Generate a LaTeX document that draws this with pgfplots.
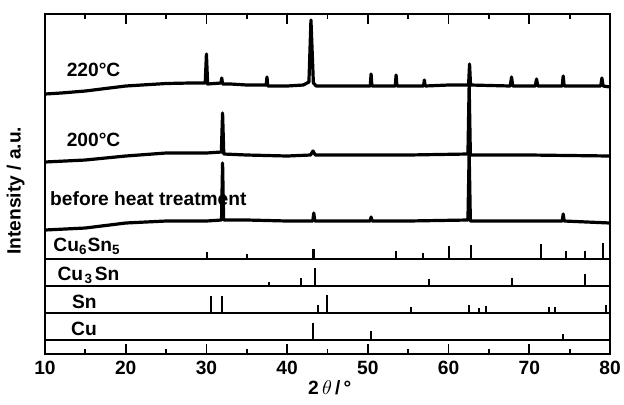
\documentclass[border=0pt]{standalone}
\usepackage{fontspec}
\setmainfont{Liberation Sans}
\usepackage{pgfplots}
\pgfplotsset{compat=1.18}

\newcommand{\lab}{\fontsize{9.6}{11}\selectfont\bfseries}

\begin{document}
\begin{tikzpicture}
\begin{axis}[
    scale only axis,
    width=282.5pt, height=170pt,
    xmin=10, xmax=80,
    ymin=0, ymax=340,
    axis line style={line width=1pt},
    xtick={10,20,...,80},
    minor x tick num=1,
    ytick=\empty,
    tick align=inside,
    major tick length=5pt,
    minor tick length=2.5pt,
    every tick/.style={black, line width=0.9pt},
    /pgf/number format/assume math mode=true,
    xticklabel style={font=\lab},
    xlabel={2\,$\theta$\,/\,°},
    xlabel style={font=\lab, at={(axis description cs:0.504,-0.1)}, anchor=center},
    ylabel={Intensity / a.u.},
    ylabel style={font=\lab, at={(axis description cs:-0.052,0.48)}, anchor=center},
    clip=true,
]
% panel separators
\draw[line width=1pt] (axis cs:10,95) -- (axis cs:80,95);
\draw[line width=1pt] (axis cs:10,68) -- (axis cs:80,68);
\draw[line width=1pt] (axis cs:10,41) -- (axis cs:80,41);
\draw[line width=1pt] (axis cs:10,14) -- (axis cs:80,14);

% 220 C
\addplot[black, line width=1.6pt, line join=round] coordinates {
(10,260) (12,261) (15,263) (18,266) (20,268) (22,269) (25,270.5) (28,271)
(29.85,271) (30.0,300) (30.15,270) (31.8,271) (31.9,276) (32.0,270) (33,270)
(35,269) (37.4,269) (37.5,277) (37.6,268) (40,268) (42,269) (42.7,272)
(42.95,334) (43.25,271) (43.6,268) (46,268) (50.3,268) (50.4,280) (50.5,268)
(53.4,268) (53.5,279) (53.6,268) (56.9,268) (57.0,274) (57.1,268) (60,269)
(62.48,269) (62.6,290) (62.72,269) (67.65,268) (67.8,277) (67.95,268) (70.75,268)
(70.9,275) (71.05,268) (74.08,268) (74.2,278) (74.32,268) (78.85,268) (79.0,276)
(79.15,268) (80,267)
};
% 200 C
\addplot[black, line width=1.6pt, line join=round] coordinates {
(10,192) (15,194) (20,198) (25,201) (30,201) (31.85,202) (32.0,241) (32.15,200)
(35,199) (40,198) (42.9,199) (43.2,203) (43.5,199) (50,199) (55,199) (62.4,200)
(62.55,269) (62.7,199) (70,199) (80,198)
};
% before heat treatment
\addplot[black, line width=1.6pt, line join=round] coordinates {
(10,124) (15,126) (20,131) (25,133) (30,133) (31.87,134) (32.0,191) (32.13,134)
(35,134) (40,133) (43.18,133) (43.3,141) (43.42,133) (50.28,133) (50.4,137)
(50.52,133) (55,133) (62.4,134) (62.55,201) (62.7,133) (74.08,133) (74.2,140)
(74.32,133) (80,131)
};

% reference sticks: x, top, length
\pgfplotsset{stick/.style={mark=none, draw=none,
    error bars/.cd, y dir=minus, y explicit, error mark=none,
    error bar style={line width=1pt, draw=black}}}
% Cu6Sn5
\addplot[stick] table[x=x, y=t, y error=h] {
x t h
30.1 102 7
35.05 100 5
43.15 105 10
43.3 105 10
53.5 103 8
56.8 101 6
60.0 108 13
62.75 109 14
71.4 110 15
74.6 103 8
76.85 103 8
79.1 111 16
};
% Cu3Sn
\addplot[stick] table[x=x, y=t, y error=h] {
x t h
37.7 72 4
41.75 76 8
43.4 86 18
57.6 75 7
67.9 76 8
76.9 80 12
};
% Sn
\addplot[stick] table[x=x, y=t, y error=h] {
x t h
30.55 58 17
31.9 58 17
43.8 49 8
44.9 59 18
55.3 47 6
62.5 49 8
63.8 46 5
64.6 48 7
72.4 47 6
73.2 47 6
79.5 49 8
};
% Cu
\addplot[stick] table[x=x, y=t, y error=h] {
x t h
43.25 31 17
50.4 23 9
74.2 20 6
};

\node[font=\lab, anchor=west, inner sep=0pt] at (axis cs:12.65,284) {220°C};
\node[font=\lab, anchor=west, inner sep=0pt] at (axis cs:12.65,214) {200°C};
\node[font=\lab, anchor=west, inner sep=0pt] at (axis cs:10.6,155) {before heat treatment};
\node[font=\lab, anchor=west, inner sep=0pt] at (axis cs:11.0,108) {Cu\textsubscript{6}Sn\textsubscript{5}};
\node[font=\lab, anchor=west, inner sep=0pt] at (axis cs:11.5,79) {Cu\kern0.8pt\textsubscript{3}\kern0.8pt Sn};
\node[font=\lab, anchor=west, inner sep=0pt] at (axis cs:13.3,52) {Sn};
\node[font=\lab, anchor=west, inner sep=0pt] at (axis cs:13.2,25) {Cu};
\end{axis}
\pgfresetboundingbox
\path[use as bounding box] ([xshift=-22.5pt,yshift=-25pt]current axis.south west)
    rectangle ([xshift=7pt,yshift=7pt]current axis.north east);
\end{tikzpicture}
\end{document}
